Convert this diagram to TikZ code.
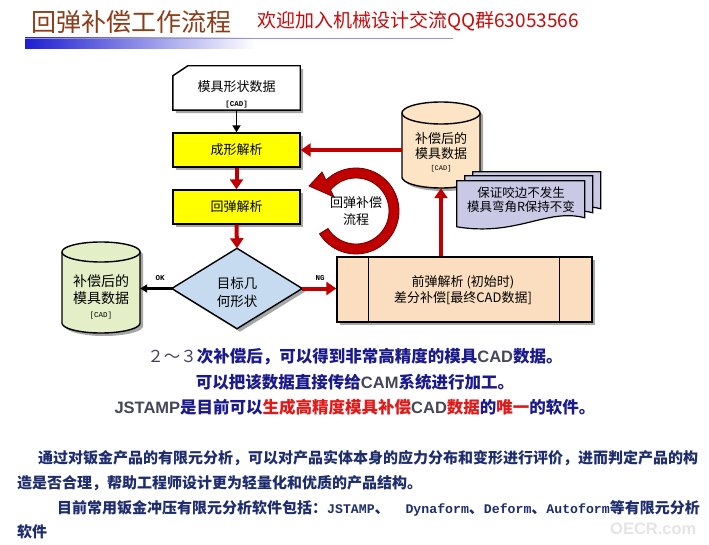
\documentclass[tikz,border=0pt]{standalone}
\usepackage{fontspec}
\setmainfont{Noto Sans CJK SC}
\newfontfamily\monof{Liberation Mono}
\newfontfamily\sansl{Liberation Sans}
\usetikzlibrary{arrows.meta,shadows,backgrounds,calc}
\definecolor{arrred}{RGB}{192,0,0}
\definecolor{darkred}{RGB}{110,0,0}
\definecolor{titlebrown}{RGB}{140,60,25}
\definecolor{welred}{RGB}{200,10,10}
\definecolor{boxyellow}{RGB}{255,255,0}
\definecolor{peach}{RGB}{251,222,192}
\definecolor{cylpeach}{RGB}{252,228,196}
\definecolor{cylgreen}{RGB}{228,239,200}
\definecolor{diablue}{RGB}{198,218,240}
\definecolor{lavender}{RGB}{201,201,230}
\definecolor{navy}{RGB}{26,26,140}
\definecolor{hlred}{RGB}{225,25,25}
\definecolor{graytxt}{RGB}{70,70,90}
\definecolor{paranavy}{RGB}{30,45,110}
\definecolor{barblue}{RGB}{30,30,210}
\definecolor{linelav}{RGB}{150,150,205}
\newcommand\mf[1]{{\monof\bfseries\fontsize{13.2}{13}\selectfont #1}}
\newcommand\lat[1]{{\sansl #1}}
\begin{document}
\begin{tikzpicture}[x=1pt,y=-1pt,
  txt/.style={inner sep=0pt, align=center, font=\fontsize{13}{15}\selectfont},
  holder/.style={inner sep=0pt},
  shp/.style={draw=black, line width=1.4pt},
  shad/.style={drop shadow={shadow xshift=3pt, shadow yshift=-3pt, fill=black, opacity=0.35}},
  redarr/.style={draw=arrred, line width=4pt, -{Triangle[length=10pt,width=13pt]}},
  blkarr/.style={draw=black, line width=1.8pt, -{Triangle[length=7pt,width=8pt]}},
  plain/.style={inner sep=0pt, anchor=west},
  sheet/.pic={\draw[line width=1.2pt, fill=lavender] (0,0) -- (128,0) -- (128,37) .. controls (90,27) and (60,56) .. (0,46) -- cycle;}
]
\useasboundingbox (0,0) rectangle (709,545);
\begin{pgfonlayer}{background}
\fill[white] (0,0) rectangle (709,545);
\end{pgfonlayer}

% header
\node[plain, text=titlebrown, font=\fontsize{25}{25}\selectfont] (title) at (31,22) {回弹补偿工作流程};
\node[plain, text=welred, font=\fontsize{19}{20}\selectfont] (welcome) at (257,21) {欢迎加入机械设计交流QQ群63053566};
\shade[left color=barblue, right color=white] (25,38) rectangle (255,49);
\draw[linelav, line width=1pt] (25,38.5) -- (453,38.5);

% top data box
\node[holder, minimum width=127, minimum height=44] (topbox) at (236.5,88) {};
\node[txt] (toptxt) at (236.5,94) {模具形状数据\\{\monof\bfseries\fontsize{7.5}{9}\selectfont [CAD]}};
\begin{pgfonlayer}{background}
\draw[shp, fill=white, shad] (topbox.south west) -- ($(topbox.north west)+(0,10)$) -- ($(topbox.north west)+(15,0)$) -- (topbox.north east) -- (topbox.south east) -- cycle;
\end{pgfonlayer}

% yellow boxes
\node[shp, fill=boxyellow, shad, minimum width=127, minimum height=34, inner sep=0, font=\fontsize{13}{15}\selectfont] (yelA) at (236.5,150) {成形解析};
\node[shp, fill=boxyellow, shad, minimum width=127, minimum height=34, inner sep=0, font=\fontsize{13}{15}\selectfont] (yelB) at (236.5,207) {回弹解析};

% diamond
\node[holder, minimum width=130, minimum height=80] (dia) at (237,288.5) {};
\begin{pgfonlayer}{background}
\draw[shp, fill=diablue, shad] (dia.north) -- (dia.east) -- (dia.south) -- (dia.west) -- cycle;
\end{pgfonlayer}
\node[txt, font=\fontsize{13.5}{18}\selectfont] (diatxt) at (237,292) {目标几\\何形状};

% left cylinder
\node[holder, minimum width=78, minimum height=91] (cylL) at (101,287.5) {};
\begin{pgfonlayer}{background}
\draw[shp, fill=cylgreen, shad] (62,252) -- (62,323) -- plot[domain=180:360, samples=40] ({101+39*cos(\x)},{323-10*sin(\x)}) -- (140,252) -- plot[domain=0:180, samples=40] ({101+39*cos(\x)},{252-10*sin(\x)}) -- cycle;
\draw[shp] plot[domain=180:360, samples=40] ({101+39*cos(\x)},{252-10*sin(\x)});
\end{pgfonlayer}
\node[txt, font=\fontsize{14}{17}\selectfont] (cylLt) at (101,297) {补偿后的\\模具数据\\[-3pt]{\monof\fontsize{7.5}{8}\selectfont [CAD]}};

% right cylinder
\node[holder, minimum width=78, minimum height=86] (cylR) at (441,145) {};
\begin{pgfonlayer}{background}
\draw[shp, fill=cylpeach, shad] (402,113) -- (402,177) -- plot[domain=180:360, samples=40] ({441+39*cos(\x)},{177-11*sin(\x)}) -- (480,113) -- plot[domain=0:180, samples=40] ({441+39*cos(\x)},{113-11*sin(\x)}) -- cycle;
\draw[shp] plot[domain=180:360, samples=40] ({441+39*cos(\x)},{113-11*sin(\x)});
\end{pgfonlayer}
\node[txt] (cylRt) at (441,152) {补偿后的\\模具数据\\[-3pt]{\monof\fontsize{7}{8}\selectfont [CAD]}};

% document stack
\node[holder, minimum width=128, minimum height=46] (doc) at (521,204) {};
\pic at ($(doc.north west)+(16,-9)$) {sheet};
\pic at ($(doc.north west)+(8,-5)$) {sheet};
\pic at (doc.north west) {sheet};
\node[txt, font=\fontsize{12.5}{13.5}\selectfont] (doct) at (521,200) {保证咬边不发生\\模具弯角R保持不变};

% process box
\node[shp, fill=peach, shad, minimum width=255, minimum height=65, inner sep=0] (proc) at (464.5,289.5) {};
\draw[line width=1.4pt] ($(proc.north west)+(32,0)$) -- ($(proc.south west)+(32,0)$);
\draw[line width=1.4pt] ($(proc.north east)+(-33,0)$) -- ($(proc.south east)+(-33,0)$);
\node[txt, font=\fontsize{13}{16}\selectfont] (proct) at (463,290) {前弹解析 (初始时)\\差分补偿[最终CAD数据]};

% circular arrow
\filldraw[fill=arrred, draw=darkred, line width=0.8pt] plot[domain=212:494.3, samples=60] ({356+43*cos(\x)},{211-43*sin(\x)}) -- (322,172) -- (309,186) -- (334,197) -- (330.6,190) -- plot[domain=500.4:212, samples=60] ({356+33*cos(\x)},{211-33*sin(\x)}) -- cycle;
\node[txt, font=\fontsize{13}{17}\selectfont] (loopt) at (356,211.5) {回弹补偿\\流程};

% connectors
\draw[blkarr] (topbox.south) -- (yelA.north);
\draw[redarr] (yelA.south) -- (yelB.north);
\draw[redarr] (yelB.south) -- (dia.north);
\draw[blkarr, line width=2.2pt] (dia.west) -- (dia.west -| cylL.east);
\draw[redarr] (dia.east) -- (dia.east -| proc.west);
\draw[redarr] (cylR.south |- proc.north) -- (cylR.south);
\draw[redarr, line width=3.5pt] (cylR.west |- yelA.east) -- (yelA.east);
\node[inner sep=0, font=\monof\bfseries\fontsize{7.5}{8}\selectfont] (oklab) at (160,278) {OK};
\node[inner sep=0, font=\monof\bfseries\fontsize{7.5}{8}\selectfont] (nglab) at (320,278) {NG};

% middle text
\node[inner sep=0, font=\bfseries\fontsize{16.5}{18}\selectfont, text=navy] (m1) at (355,357) {{\mdseries\color{graytxt}２～３}次补偿后，可以得到非常高精度的模具{\color{graytxt}\lat{CAD}}数据。};
\node[inner sep=0, font=\bfseries\fontsize{16.5}{18}\selectfont, text=navy] (m2) at (355,382) {可以把该数据直接传给{\color{graytxt}\lat{CAM}}系统进行加工。};
\node[inner sep=0, font=\bfseries\fontsize{16.5}{18}\selectfont, text=navy] (m3) at (355,407) {{\color{graytxt}\lat{JSTAMP}}是目前可以{\color{hlred}生成高精度模具补偿}{\color{graytxt}\lat{CAD}}{\color{hlred}数据}的{\color{hlred}唯一}的软件。};

% paragraph
\node[plain, font=\bfseries\fontsize{15}{16}\selectfont, text=paranavy] (p1) at (38,458) {通过对钣金产品的有限元分析，可以对产品实体本身的应力分布和变形进行评价，进而判定产品的构};
\node[plain, font=\bfseries\fontsize{15}{16}\selectfont, text=paranavy] (p2) at (17,483) {造是否合理，帮助工程师设计更为轻量化和优质的产品结构。};
\node[plain, font=\bfseries\fontsize{15}{16}\selectfont, text=paranavy] (p3) at (57,508) {目前常用钣金冲压有限元分析软件包括：\mf{JSTAMP}、\mf{\ \ Dynaform}、\mf{Deform}、\mf{Autoform}等有限元分析};
\node[plain, font=\bfseries\fontsize{15}{16}\selectfont, text=paranavy] (p4) at (17,532) {软件};
\node[plain, text=black!10, font=\sansl\bfseries\fontsize{16.5}{17}\selectfont] (wm) at (610,529) {OECR.com};
\end{tikzpicture}
\end{document}
